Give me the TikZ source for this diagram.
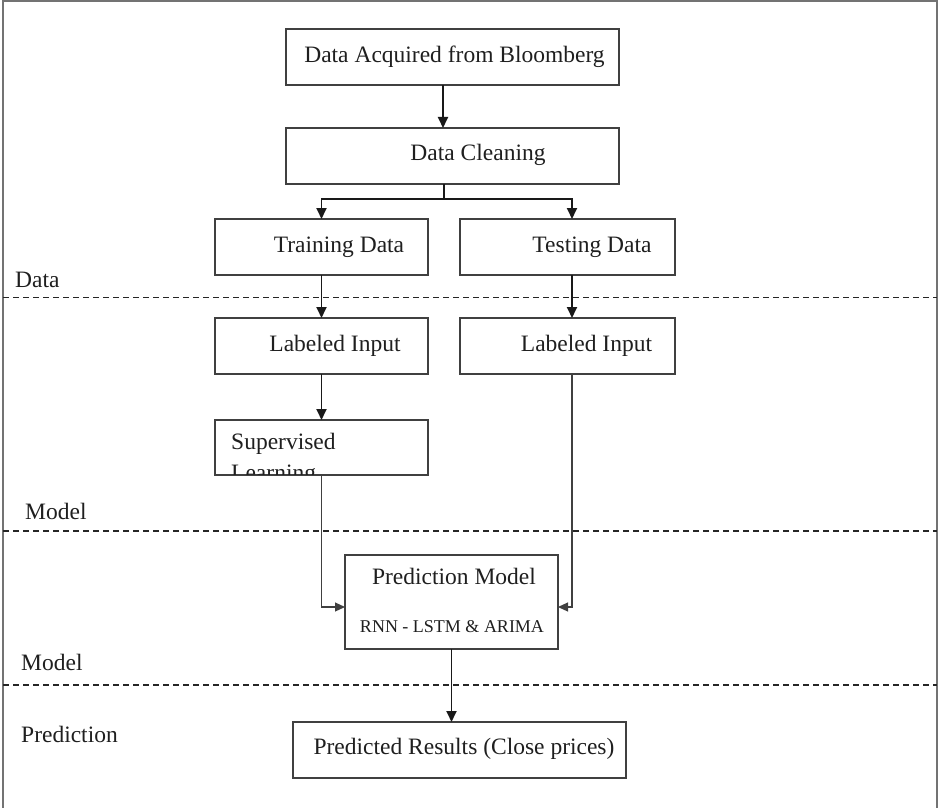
\documentclass[tikz,border=0pt]{standalone}
\usepackage{fontspec}
\setmainfont{Liberation Serif}
\usetikzlibrary{arrows.meta}
\begin{document}
\begin{tikzpicture}[x=1pt,y=-1pt,
  box/.style={draw=black!75, line width=1.3pt, minimum height=56pt, inner sep=0pt, outer sep=0pt},
  lbl/.style={anchor=base, font=\fontsize{23.5}{26}\selectfont, text=black!88, inner sep=0pt},
  side/.style={anchor=base west, font=\fontsize{23.5}{26}\selectfont, text=black!88, inner sep=0pt},
  small/.style={anchor=base, font=\fontsize{18}{20}\selectfont, text=black!88, inner sep=0pt},
  conn/.style={draw=black!90, line width=1.8pt, -{Triangle[length=11pt,width=10pt]}},
  longconn/.style={draw=black!75, line width=1.1pt, -{Triangle[length=10pt,width=9pt]}},
  sep/.style={draw=black!85, line width=1.5pt, dash pattern=on 6pt off 4pt},
  frame/.style={draw=black!55, line width=1.4pt}
]
\useasboundingbox (0,0) rectangle (938,808);
\draw[frame] (3,808) -- (3,1) -- (937,1) -- (937,808);

% separators
\draw[sep] (3,297.5) -- (937,297.5);
\draw[sep] (3,531) -- (937,531);
\draw[sep] (3,685) -- (937,685);

% side labels
\node[side] (lData) at (15,287) {Data};
\node[side] (lModelA) at (25,519) {Model};
\node[side] (lModelB) at (21,670) {Model};
\node[side] (lPred) at (21,742) {Prediction};

% boxes
\node[box, minimum width=333pt] (acq) at (452.5,57) {};
\node[box, minimum width=333pt] (clean) at (452.5,156) {};
\node[box, minimum width=213pt] (train) at (321.5,247) {};
\node[box, minimum width=215pt] (test) at (567.5,247) {};
\node[box, minimum width=213pt] (lab1) at (321.5,346) {};
\node[box, minimum width=215pt] (lab2) at (567.5,346) {};
\node[box, minimum width=213pt, minimum height=55pt] (sup) at (321.5,447.5) {};
\node[box, minimum width=213pt, minimum height=94pt] (pred) at (451.5,602) {};
\node[box, minimum width=333pt] (res) at (459.5,750) {};

% texts
\node[lbl] (tAcq) at (454.5,63) {Data Acquired from Bloomberg};
\node[lbl] (tClean) at (478,160) {Data Cleaning};
\node[lbl] (tTrain) at (339,252) {Training Data};
\node[lbl] (tTest) at (592,252) {Testing Data};
\node[lbl] (tLab1) at (335,351) {Labeled Input};
\node[lbl] (tLab2) at (586.5,351) {Labeled Input};
\node[lbl, anchor=base west] (tSup) at (231,449) {Supervised};
\begin{scope}
  \clip ([yshift=1pt]sup.south west) rectangle (sup.north east);
  \node[lbl, anchor=base west] (tLearn) at (231,480) {Learning};
\end{scope}
\node[lbl] (tPred) at (454,584) {Prediction Model};
\node[small] (tRnn) at (452,632) {RNN - LSTM \& ARIMA};
\node[lbl] (tRes) at (464,754) {Predicted Results (Close prices)};

% connectors
\draw[conn] ([xshift=-9.5pt]acq.south) -- ([xshift=-9.5pt]clean.north);
\coordinate (split) at ([xshift=-8.5pt, yshift=-15pt]clean.south);
\draw[conn] ([xshift=-8.5pt]clean.south) -- (split) -| (train.north);
\draw[conn] (split) -| ([xshift=4.5pt]test.north);
\draw[conn] (train.south) -- (lab1.north);
\draw[conn] ([xshift=4.5pt]test.south) -- ([xshift=4.5pt]lab2.north);
\draw[conn] (lab1.south) -- (sup.north);
\draw[longconn] (sup.south) |- ([yshift=-5pt]pred.west);
\draw[longconn] ([xshift=4.5pt]lab2.south) |- ([yshift=-5pt]pred.east);
\draw[conn] (pred.south) -- (pred.south |- res.north);
\end{tikzpicture}
\end{document}
